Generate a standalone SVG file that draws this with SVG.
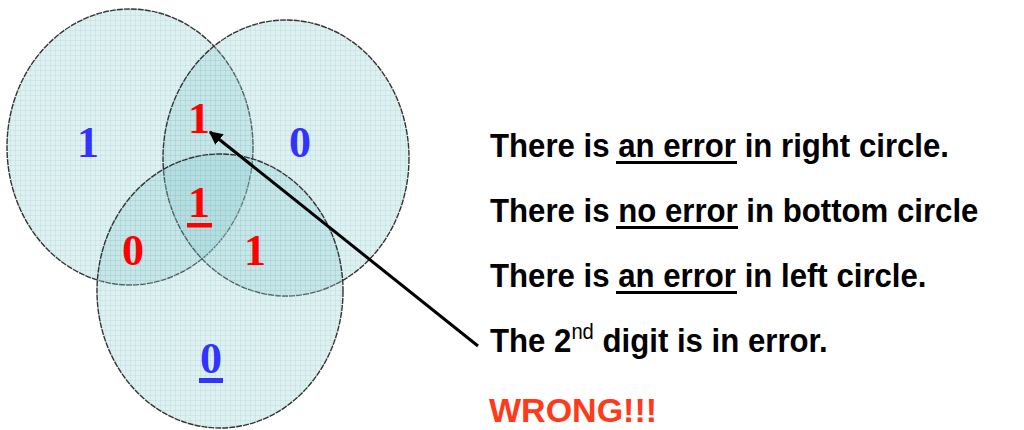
<svg xmlns="http://www.w3.org/2000/svg" width="1024" height="430" viewBox="0 0 1024 430">
  <style>
    .circ { fill: url(#grid); stroke: #333333; stroke-width: 1.4; stroke-dasharray: 6 1; }
    .dig { font-family: "Liberation Serif", "Times New Roman", serif; font-weight: bold; font-size: 44px; text-anchor: middle; }
    .red { fill: #ff0000; }
    .blue { fill: #3333ff; }
    .stmt { font-family: "Liberation Sans", Arial, sans-serif; font-weight: bold; font-size: 34px; fill: #000; }
    .sup { font-weight: normal; font-size: 22px; }
    .wrong { font-family: "Liberation Sans", Arial, sans-serif; font-weight: bold; font-size: 34px; fill: #ff3a1a; }
  </style>
  <defs>
    <pattern id="grid" width="5" height="5" patternUnits="userSpaceOnUse">
      <rect width="5" height="5" fill="#8cc8cc" fill-opacity="0.28"/>
      <path d="M0 0.5H5M0.5 0V5" stroke="#8cc8cc" stroke-opacity="0.22" stroke-width="1" fill="none"/>
    </pattern>
    <marker id="arrow" viewBox="0 0 10 10" refX="9" refY="5" markerWidth="4.5" markerHeight="4.5" orient="auto" markerUnits="strokeWidth">
      <path d="M0 0L10 5L0 10z" fill="#000"/>
    </marker>
  </defs>

  <g id="left-circle">
    <ellipse class="circ" cx="130" cy="147" rx="123" ry="138"/>
  </g>
  <g id="right-circle">
    <ellipse class="circ" cx="286" cy="158" rx="123" ry="138"/>
  </g>
  <g id="bottom-circle">
    <ellipse class="circ" cx="220" cy="291" rx="123" ry="137"/>
  </g>

  <g id="digit-left"><text class="dig blue" x="88" y="157">1</text></g>
  <g id="digit-right"><text class="dig blue" x="300" y="157">0</text></g>
  <g id="digit-top"><text class="dig red" x="199" y="133">1</text></g>
  <g id="digit-center">
    <text class="dig red" x="199" y="217">1</text>
    <rect x="187" y="223" width="25" height="4.5" fill="#ff0000"/>
  </g>
  <g id="digit-lower-left"><text class="dig red" x="133" y="265">0</text></g>
  <g id="digit-lower-right"><text class="dig red" x="255" y="265">1</text></g>
  <g id="digit-bottom">
    <text class="dig blue" x="211" y="373">0</text>
    <rect x="199" y="378" width="24" height="5" fill="#3333ff"/>
  </g>

  <g id="line1">
    <text class="stmt" transform="translate(490,157) scale(0.917,1)" x="0" y="0">There is an error in right circle.</text>
    <rect x="616" y="161" width="121" height="3" fill="#000"/>
  </g>
  <g id="line2">
    <text class="stmt" transform="translate(490,222) scale(0.917,1)" x="0" y="0">There is no error in bottom circle</text>
    <rect x="616" y="226" width="122" height="3" fill="#000"/>
  </g>
  <g id="line3">
    <text class="stmt" transform="translate(490,287) scale(0.917,1)" x="0" y="0">There is an error in left circle.</text>
    <rect x="616" y="291" width="121" height="3" fill="#000"/>
  </g>
  <g id="line4">
    <text class="stmt" transform="translate(490,352) scale(0.917,1)" x="0" y="0">The 2<tspan class="sup" dy="-13">nd</tspan><tspan dy="13"> digit is in error.</tspan></text>
  </g>
  <g id="wrong">
    <text class="wrong" x="489" y="422">WRONG!!!</text>
  </g>

  <g id="connectors">
    <line x1="478" y1="346" x2="210" y2="132" stroke="#000" stroke-width="3" marker-end="url(#arrow)"/>
  </g>
</svg>
